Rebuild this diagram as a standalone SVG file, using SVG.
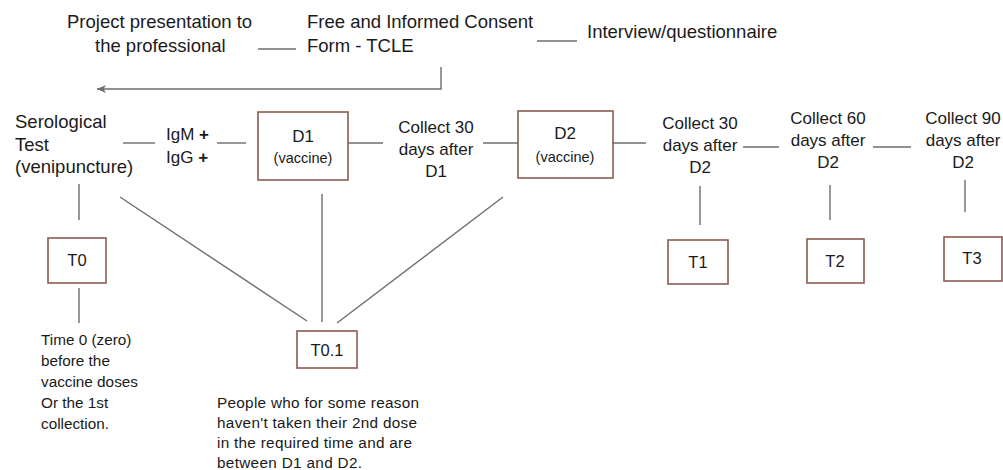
<svg xmlns="http://www.w3.org/2000/svg" width="1003" height="470" viewBox="0 0 1003 470">
<defs>
<style>
text{font-family:"Liberation Sans",Arial,sans-serif;fill:#1a1a1a}
.big{font-size:18.5px}
.mid{font-size:17px}
.sm{font-size:14.5px}
.note{font-size:15.3px}
.tl{font-size:16.5px}
.box{fill:#fff;stroke:#8a5a52;stroke-width:1.6}
.ln{stroke:#6e6e6e;stroke-width:1.4;fill:none}
.c{text-anchor:middle}
</style>
<marker id="arr" markerWidth="12" markerHeight="10" refX="10" refY="4.5" orient="auto" markerUnits="userSpaceOnUse">
<path d="M1,0.5 L10,4.5 L1,8.5 L3.5,4.5 Z" fill="#6e6e6e"/>
</marker>
</defs>
<rect width="1003" height="470" fill="#fff"/>
<g id="connectors">
<line class="ln" x1="258" y1="49" x2="296" y2="49"/>
<line class="ln" x1="537" y1="41" x2="577" y2="41"/>
<polyline class="ln" points="441,67 441,89 97,89" marker-end="url(#arr)"/>
<line class="ln" x1="123" y1="143" x2="155" y2="143"/>
<line class="ln" x1="217" y1="143" x2="246" y2="143"/>
<line class="ln" x1="348" y1="143" x2="383" y2="143"/>
<line class="ln" x1="483" y1="143" x2="518" y2="143"/>
<line class="ln" x1="613" y1="143" x2="646" y2="143"/>
<line class="ln" x1="743" y1="147" x2="779" y2="147"/>
<line class="ln" x1="873" y1="147" x2="911" y2="147"/>
<line class="ln" x1="79" y1="184" x2="79" y2="220"/>
<line class="ln" x1="79" y1="288" x2="79" y2="323"/>
<line class="ln" x1="120" y1="197" x2="307" y2="321"/>
<line class="ln" x1="322" y1="194" x2="322" y2="322"/>
<line class="ln" x1="503" y1="197" x2="337" y2="323"/>
<line class="ln" x1="700" y1="186" x2="700" y2="225"/>
<line class="ln" x1="830" y1="185" x2="830" y2="220"/>
<line class="ln" x1="965" y1="180" x2="965" y2="212"/>
</g>
<g id="presentation">
<text class="big" x="67" y="28">Project presentation to</text>
<text class="big" x="95" y="52">the professional</text>
</g>
<g id="tcle">
<text class="big" x="307" y="28">Free and Informed  Consent</text>
<text class="big" x="307" y="52">Form - TCLE</text>
</g>
<g id="interview">
<text class="big" x="587" y="38">Interview/questionnaire</text>
</g>
<g id="serological">
<text class="big" x="15" y="128">Serological</text>
<text class="big" x="15" y="151">Test</text>
<text class="big" x="15" y="173">(venipuncture)</text>
</g>
<g id="igmigg">
<text class="mid" x="166" y="140">IgM <tspan font-weight="bold">+</tspan></text>
<text class="mid" x="166" y="163">IgG <tspan font-weight="bold">+</tspan></text>
</g>
<g id="d1">
<rect class="box" x="258" y="112" width="90" height="68"/>
<text class="mid c" x="303" y="142">D1</text>
<text class="sm c" x="303" y="163">(vaccine)</text>
</g>
<g id="collect30d1">
<text class="mid c" x="436" y="133">Collect 30</text>
<text class="mid c" x="436" y="155">days after</text>
<text class="mid c" x="436" y="177">D1</text>
</g>
<g id="d2">
<rect class="box" x="518" y="111" width="95" height="67"/>
<text class="mid c" x="565" y="139">D2</text>
<text class="sm c" x="565" y="162">(vaccine)</text>
</g>
<g id="collect30d2">
<text class="mid c" x="700" y="129">Collect 30</text>
<text class="mid c" x="700" y="151">days after</text>
<text class="mid c" x="700" y="173">D2</text>
</g>
<g id="collect60d2">
<text class="mid c" x="828" y="124">Collect 60</text>
<text class="mid c" x="828" y="146">days after</text>
<text class="mid c" x="828" y="168">D2</text>
</g>
<g id="collect90d2">
<text class="mid c" x="963" y="124">Collect 90</text>
<text class="mid c" x="963" y="146">days after</text>
<text class="mid c" x="963" y="168">D2</text>
</g>
<g id="t0">
<rect class="box" x="48" y="238" width="58" height="45"/>
<text class="tl c" x="77" y="266">T0</text>
</g>
<g id="t0note">
<text class="note" x="41" y="345">Time 0 (zero)</text>
<text class="note" x="41" y="366">before the</text>
<text class="note" x="41" y="387">vaccine doses</text>
<text class="note" x="41" y="408">Or the 1st</text>
<text class="note" x="41" y="429">collection.</text>
</g>
<g id="t01">
<rect class="box" x="297" y="331" width="60" height="37"/>
<text class="tl c" x="327" y="356">T0.1</text>
</g>
<g id="t01note">
<text class="note" x="217" y="408" textLength="202">People who for some reason</text>
<text class="note" x="217" y="428" textLength="200">haven't taken their 2nd dose</text>
<text class="note" x="217" y="448" textLength="195">in the required time and are</text>
<text class="note" x="217" y="468" textLength="145">between D1 and D2.</text>
</g>
<g id="t1">
<rect class="box" x="668" y="240" width="60" height="44"/>
<text class="tl c" x="698" y="268">T1</text>
</g>
<g id="t2">
<rect class="box" x="807" y="239" width="57" height="44"/>
<text class="tl c" x="835" y="267">T2</text>
</g>
<g id="t3">
<rect class="box" x="944" y="237" width="58" height="44"/>
<text class="tl c" x="972" y="264">T3</text>
</g>
</svg>
